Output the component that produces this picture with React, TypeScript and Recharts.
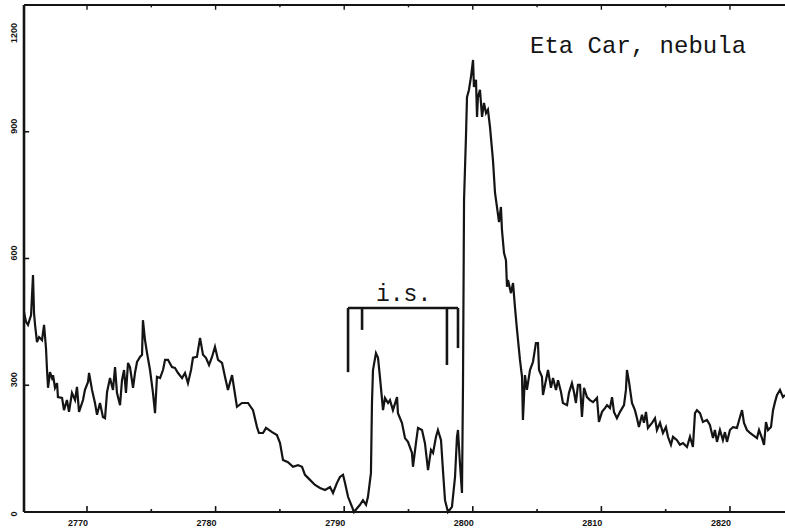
import { LineChart, Line, XAxis, YAxis, ReferenceLine } from 'recharts';

// wavelength (Angstrom) and flux
const wavelength = [
  2765.1, 2765.26, 2765.41, 2765.65, 2765.8, 2765.88, 2765.96, 2766.11, 2766.27, 2766.5,
  2766.66, 2766.81, 2766.89, 2766.97, 2767.12, 2767.28, 2767.36, 2767.51, 2767.67, 2767.74,
  2768.06, 2768.21, 2768.44, 2768.6, 2768.83, 2769.07, 2769.22, 2769.38, 2769.69, 2769.84,
  2770.08, 2770.16, 2770.39, 2770.62, 2770.78, 2771.01, 2771.24, 2771.4, 2771.56, 2771.79,
  2772.02, 2772.18, 2772.33, 2772.57, 2772.72, 2772.88, 2773.03, 2773.19, 2773.34, 2773.58,
  2773.73, 2773.89, 2774.12, 2774.28, 2774.35, 2774.51, 2774.67, 2774.9, 2775.13, 2775.29,
  2775.44, 2775.68, 2775.91, 2776.07, 2776.3, 2776.61, 2776.84, 2777.08, 2777.39, 2777.62,
  2777.85, 2778.09, 2778.24, 2778.55, 2778.79, 2779.02, 2779.25, 2779.49, 2779.72, 2779.95,
  2780.19, 2780.5, 2780.73, 2780.96, 2781.28, 2781.43, 2781.66, 2782.05, 2782.52, 2782.91,
  2783.22, 2783.37, 2783.69, 2783.92, 2784.39, 2784.77, 2785.01, 2785.24, 2785.63, 2786.02,
  2786.41, 2786.72, 2786.95, 2787.34, 2787.73, 2788.12, 2788.51, 2788.9, 2789.13, 2789.44,
  2789.67, 2789.91, 2790.06, 2790.3, 2790.61, 2790.76, 2791.0, 2791.23, 2791.46, 2791.7,
  2791.85, 2792.08, 2792.16, 2792.24, 2792.47, 2792.63, 2792.78, 2793.02, 2793.17, 2793.41,
  2793.56, 2793.79, 2794.11, 2794.18, 2794.49, 2794.73, 2794.96, 2795.27, 2795.35, 2795.58,
  2795.74, 2796.05, 2796.28, 2796.52, 2796.75, 2796.91, 2797.14, 2797.29, 2797.53, 2797.68,
  2797.84, 2798.07, 2798.38, 2798.62, 2798.77, 2798.85, 2799.0, 2799.16, 2799.24, 2799.32,
  2799.47, 2799.55, 2799.7, 2799.86, 2800.02, 2800.09, 2800.25, 2800.33, 2800.4, 2800.56,
  2800.72, 2800.87, 2801.03, 2801.18, 2801.34, 2801.57, 2801.73, 2801.88, 2802.04, 2802.19,
  2802.27, 2802.43, 2802.58, 2802.66, 2802.74, 2802.97, 2803.13, 2803.28, 2803.44, 2803.67,
  2803.83, 2803.9, 2804.06, 2804.21, 2804.45, 2804.68, 2804.91, 2805.07, 2805.15, 2805.38,
  2805.46, 2805.69, 2805.85, 2806.08, 2806.24, 2806.47, 2806.63, 2806.86, 2807.01, 2807.33,
  2807.48, 2807.71, 2807.87, 2808.02, 2808.18, 2808.34, 2808.49, 2808.65, 2808.88, 2809.11,
  2809.35, 2809.66, 2809.81, 2810.05, 2810.28, 2810.44, 2810.67, 2810.83, 2810.98, 2811.21,
  2811.45, 2811.76, 2811.91, 2811.99, 2812.15, 2812.38, 2812.61, 2812.77, 2812.92, 2813.16,
  2813.31, 2813.47, 2813.62, 2813.94, 2814.17, 2814.32, 2814.56, 2814.79, 2815.02, 2815.18,
  2815.41, 2815.57, 2815.88, 2816.11, 2816.35, 2816.66, 2816.89, 2817.12, 2817.28, 2817.43,
  2817.67, 2817.9, 2818.21, 2818.44, 2818.68, 2818.83, 2818.99, 2819.22, 2819.45, 2819.61,
  2819.77, 2820.0, 2820.23, 2820.54, 2820.78, 2820.94, 2821.09, 2821.32, 2821.56, 2821.79,
  2822.1, 2822.26, 2822.49, 2822.65, 2822.8, 2822.96, 2823.19, 2823.35, 2823.5, 2823.66,
  2823.89, 2824.12, 2824.28,
];

const flux = [
  473, 450, 443, 466, 561, 471, 443, 402, 414, 407,
  443, 388, 336, 294, 331, 317, 324, 294, 305, 272,
  270, 241, 265, 237, 282, 265, 296, 237, 265, 289,
  308, 329, 289, 258, 230, 258, 225, 222, 284, 317,
  289, 343, 282, 253, 312, 336, 282, 353, 343, 294,
  329, 355, 367, 372, 454, 407, 376, 336, 282, 234,
  320, 317, 336, 360, 360, 343, 341, 329, 317, 329,
  305, 336, 365, 367, 412, 372, 365, 348, 367, 391,
  360, 353, 320, 289, 324, 294, 249, 258, 258, 241,
  201, 187, 187, 199, 189, 182, 163, 123, 118, 107,
  111, 107, 88, 76, 64, 57, 52, 59, 45, 69,
  83, 88, 69, 36, 12, 0, 9, 17, 28, 17,
  36, 92, 258, 336, 376, 365, 320, 241, 270, 258,
  265, 241, 272, 234, 211, 175, 166, 140, 107, 163,
  199, 194, 163, 99, 147, 140, 178, 194, 170, 99,
  28, 0, 12, 83, 178, 194, 116, 45, 305, 738,
  888, 982, 999, 1030, 1070, 1006, 1023, 935, 982, 999,
  935, 968, 944, 952, 911, 833, 755, 722, 686, 722,
  667, 613, 596, 533, 549, 518, 542, 485, 431, 360,
  320, 218, 324, 289, 336, 355, 400, 400, 336, 320,
  277, 312, 336, 294, 317, 289, 312, 284, 258, 253,
  282, 305, 284, 258, 301, 301, 225, 294, 272, 265,
  260, 270, 213, 237, 246, 253, 246, 272, 237, 222,
  237, 253, 289, 336, 308, 258, 241, 222, 201, 230,
  211, 237, 199, 211, 222, 194, 211, 187, 201, 178,
  159, 178, 170, 159, 163, 154, 178, 154, 234, 241,
  234, 213, 218, 206, 175, 194, 166, 194, 170, 189,
  166, 194, 201, 199, 225, 241, 211, 194, 187, 182,
  175, 194, 175, 159, 213, 194, 201, 241, 260, 277,
  289, 272, 277,
];

const xDomain: [number, number] = [2765.1, 2824.28];
const yDomain: [number, number] = [0, 1200];
const xTicks = [2770, 2775, 2780, 2785, 2790, 2795, 2800, 2805, 2810, 2815, 2820];
const yTicks = [0, 300, 600, 900, 1200];

// interstellar absorption bracket
const isBracketTop = 483;
const isBracket = [
  { x: 2790.3, bottom: 331 },
  { x: 2791.39, bottom: 431 },
  { x: 2797.99, bottom: 348 },
  { x: 2798.85, bottom: 388 },
];

const data = wavelength.map((w, i) => ({ w, f: flux[i] }));

const ink = '#141414';
const tickFont = "'Liberation Sans', Arial, sans-serif";

// inward tick marks, in data units (one pixel is ~0.078 A or ~2.37 counts)
const xTickLen = (t: number) => (t % 10 === 0 ? 14 : 7);
const yTickLen = 0.4;

const renderBottomTick = (props: any) => {
  const { x, y, payload } = props;
  if (payload.value % 10 !== 0) return <g key={`b-${payload.value}`} />;
  return (
    <text
      key={`b-${payload.value}`}
      x={x + 1}
      y={y + 14}
      textAnchor="end"
      fontSize={9}
      fontWeight={900}
      fontFamily={tickFont}
      fill={ink}
    >
      {payload.value}
    </text>
  );
};

const renderLeftTick = (props: any) => {
  const { y, payload } = props;
  const v = payload.value;
  const ty = v === 1200 ? y + 38 : y + 2;
  const tx = 14;
  return (
    <text
      key={`l-${v}`}
      x={tx}
      y={ty}
      transform={`rotate(-90, ${tx}, ${ty})`}
      textAnchor={v === 0 ? 'middle' : 'start'}
      dominantBaseline="central"
      fontSize={9}
      fontWeight={900}
      fontFamily={tickFont}
      fill={ink}
    >
      {v}
    </text>
  );
};

export default function App() {
  return (
    <div style={{ position: 'absolute', left: 0, top: 0, width: 785, height: 530, background: '#fff' }}>
      <LineChart width={785} height={530} data={data} margin={{ top: 5, right: 0, bottom: 0, left: 0 }}>
        <XAxis
          dataKey="w"
          type="number"
          domain={xDomain}
          ticks={xTicks}
          allowDataOverflow
          height={18}
          tickSize={0}
          tickMargin={0}
          tickLine={false}
          axisLine={{ stroke: ink, strokeWidth: 2.2 }}
          tick={renderBottomTick}
          interval={0}
        />
        <YAxis
          dataKey="f"
          type="number"
          domain={yDomain}
          ticks={yTicks}
          width={24}
          tickSize={0}
          tickMargin={0}
          tickLine={false}
          axisLine={{ stroke: ink, strokeWidth: 2.6 }}
          tick={renderLeftTick}
          interval={0}
        />
        {/* top frame */}
        <ReferenceLine y={yDomain[1]} stroke={ink} strokeWidth={1.8} />
        {xTicks.map((t) => (
          <ReferenceLine
            key={`xb-${t}`}
            segment={[
              { x: t, y: 0 },
              { x: t, y: xTickLen(t) },
            ]}
            stroke={ink}
            strokeWidth={1.6}
          />
        ))}
        {xTicks.map((t) => (
          <ReferenceLine
            key={`xt-${t}`}
            segment={[
              { x: t, y: yDomain[1] },
              { x: t, y: yDomain[1] - xTickLen(t) * 0.8 },
            ]}
            stroke={ink}
            strokeWidth={1.4}
          />
        ))}
        {yTicks.slice(1, -1).map((v) => (
          <ReferenceLine
            key={`y-${v}`}
            segment={[
              { x: xDomain[0], y: v },
              { x: xDomain[0] + yTickLen, y: v },
            ]}
            stroke={ink}
            strokeWidth={1.6}
          />
        ))}
        <ReferenceLine
          segment={[
            { x: isBracket[0].x, y: isBracketTop },
            { x: isBracket[3].x, y: isBracketTop },
          ]}
          stroke={ink}
          strokeWidth={2.6}
        />
        {isBracket.map((b, i) => (
          <ReferenceLine
            key={i}
            segment={[
              { x: b.x, y: isBracketTop },
              { x: b.x, y: b.bottom },
            ]}
            stroke={ink}
            strokeWidth={2.6}
          />
        ))}
        <Line dataKey="f" type="linear" stroke={ink} strokeWidth={2.2} dot={false} isAnimationActive={false} />
      </LineChart>
      <svg width={785} height={530} style={{ position: 'absolute', left: 0, top: 0, pointerEvents: 'none' }}>
        <text x={530} y={53} fontSize={24} fontFamily="'Liberation Mono', 'DejaVu Sans Mono', monospace" fill={ink}>
          Eta Car, nebula
        </text>
        <text x={376} y={301} fontSize={23} fontFamily="'Liberation Mono', 'DejaVu Sans Mono', monospace" fill={ink}>
          i.s.
        </text>
      </svg>
    </div>
  );
}
